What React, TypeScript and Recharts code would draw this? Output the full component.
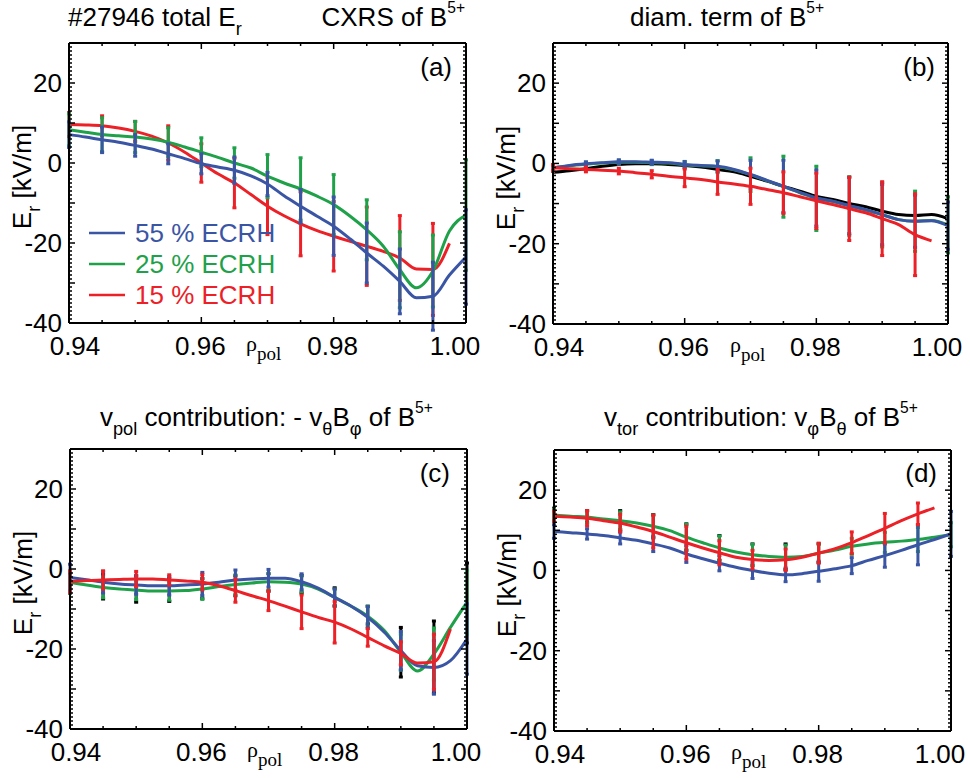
import React from "react";
import { ComposedChart, Line, XAxis, YAxis, ErrorBar, Legend } from "recharts";

/* ── look ── */
const FONT = '"Liberation Sans", Arial, Helvetica, sans-serif';
const SERIF = '"Liberation Serif", "Times New Roman", serif';
const C = {
  black: "#000000",
  green: "#1fa14a",
  blue: "#3b55a5",
  red: "#ec2027",
};

/* ── axes ── */
const RHO = [
  0.94, 0.9425, 0.945, 0.9475, 0.95, 0.9525, 0.955, 0.9575, 0.96, 0.9625, 0.965, 0.9675, 0.97,
  0.9725, 0.975, 0.9775, 0.98, 0.9825, 0.985, 0.9875, 0.99, 0.9925, 0.995, 0.9975, 1.0,
];
const X_MAJOR = [0.94, 0.96, 0.98, 1.0];
const X_MINOR = [0.94, 0.945, 0.95, 0.955, 0.96, 0.965, 0.97, 0.975, 0.98, 0.985, 0.99, 0.995, 1.0];
const Y_LABELS = [-40, -20, 0, 20];
const Y_MINOR = Array.from({ length: 71 }, (_, i) => -40 + i);

const NAMES = { blue: "55 % ECRH", green: "25 % ECRH", red: "15 % ECRH" };
const LEGEND_ORDER = ["blue", "green", "red"];

/* ── (a) total Er ── */
const A_RED = [9.6, 9.5, 9.3, 8.75, 7.9, 6.7, 5.0, 2.7, 0, -2.7, -5.0, -7.9, -10.8, -13.2, -15.2, -16.9, -18.3, -19.6, -20.8, -22.1, -23.75, -26.5, -26.6, -20.1, null];
const A_GREEN = [8.3, 7.7, 7.1, 6.8, 6.5, 6.0, 5.2, 4.0, 2.7, 1.4, 0, -1.25, -3.3, -5.0, -6.5, -8.3, -10.4, -13.3, -16.7, -20.8, -26.7, -31.2, -27, -17, -13];
const A_BLUE = [7.1, 6.5, 5.8, 5.2, 4.4, 3.5, 2.3, 1.1, -0.2, -1.0, -1.8, -3.2, -5.25, -8.2, -10.8, -13.3, -15.8, -19, -22.5, -25.8, -29.6, -33.7, -33.3, -28, -23.5];
const A_RED_ERR = [3, 2.5, 2.5, 4.3, 4.8, 6.2, 7.1, 8, 8.7, 9.8, 10.6, 11.5, null];
const A_GREEN_ERR = [4, 4.2, 3.9, 3.6, 3.6, 3.8, 5.4, 7.8, 7.5, 7.5, 9.5, 9, 13.8];
const A_BLUE_ERR = [3.2, 3.2, 2.7, 2.5, 2.5, 3.3, 2.9, 4.2, 7.3, 7.5, 8.1, 8.5, 11.8];

/* ── (b) diamagnetic term ── */
const B_BLACK = [-2.2, -1.8, -1.3, -0.7, -0.25, -0.1, -0.1, -0.25, -0.5, -0.9, -1.5, -2.1, -3.2, -4.4, -5.7, -6.9, -8.2, -9, -10, -10.8, -11.9, -12.75, -13, -12.75, -13.8];
const B_GREEN = [-1.2, -0.6, -0.2, 0.1, 0.3, 0.3, 0.2, 0.1, -0.3, -0.6, -0.8, -1.6, -2.8, -4.3, -5.8, -7.3, -8.7, -9.5, -10.6, -11.6, -12.8, -14, -14.4, -14.2, -15.3];
const B_BLUE = [-1.1, -0.5, -0.1, 0.2, 0.4, 0.4, 0.3, 0.2, -0.25, -0.5, -0.7, -1.5, -2.75, -4.2, -5.7, -7.2, -8.6, -9.4, -10.5, -11.5, -12.75, -14, -14.4, -14.25, -15.5];
const B_RED = [-1.1, -1.3, -1.5, -1.7, -1.9, -2.3, -2.7, -3.2, -3.6, -4, -4.6, -5.1, -5.7, -6.5, -7.3, -8.3, -9.3, -10.25, -11.3, -12.3, -13.75, -15.25, -17.75, -19.3, null];
const B_GREEN_ERR = [0.8, 0.5, 0.5, 0.5, 0.8, 1.5, 4.2, 7.6, 8, 7.3, 8, 7.5, 7];
const B_BLUE_ERR = [0.7, 0.5, 0.5, 0.5, 0.7, 1.3, 3.5, 6.5, 7, 7, 7.5, 6.5, 5.9];
const B_RED_ERR = [0.8, 0.6, 0.7, 0.9, 2.2, 3.1, 4.5, 5.2, 6.9, 7.9, 9.2, 10.2, null];

/* ── (c) poloidal rotation contribution ── */
const C_RED = [-3.2, -2.9, -2.75, -2.6, -2.5, -2.5, -2.75, -3, -3.3, -4.2, -5.4, -6.7, -7.9, -9.3, -10.7, -12.1, -13.3, -15, -17.1, -19.2, -21.1, -23.5, -23.2, -15, null];
const C_GREEN = [-3.3, -4, -4.6, -5, -5.25, -5.5, -5.5, -5.4, -5, -4.4, -3.9, -3.5, -3.2, -3.3, -3.75, -5, -7.1, -9.3, -11.8, -15.4, -20.8, -25.5, -21.25, -14.6, -8.3];
const C_BLUE = [-2.1, -2.7, -3.3, -3.75, -4, -4.2, -4.2, -4, -3.75, -3.3, -2.75, -2.5, -2.3, -2.3, -3.2, -4.8, -7.1, -9.3, -12.1, -15.8, -20.4, -24.2, -24.6, -22.9, -17.5];
const C_BLACK_PTS = [-3.5, -4.4, -5.0, -5.2, -4.9, -4.2, -3.4, -3.8, -7.0, -11.5, -20.8, -22, -8.5];
const C_BLACK_ERR = [2.5, 3.1, 3.3, 2.9, 2.5, 2.5, 2.2, 2.2, 2.3, 2.2, 6.2, 9, 10];
const C_GREEN_ERR = [2.8, 2.6, 2.4, 2.3, 2.6, 2.4, 2.1, 2, 2.1, 2.5, 4.5, 6.5, 8];
const C_BLUE_ERR = [3.3, 2.7, 2.3, 2.3, 2.9, 2.5, 2.2, 2, 2.1, 2.7, 4.8, 6.7, 8.8];
const C_RED_ERR = [2.7, 2.3, 1.9, 1.3, 1.9, 2.9, 2.5, 4.2, 5.2, 2.2, 2.9, 6.9, null];

/* ── (d) toroidal rotation contribution ── */
const D_RED = [13.5, 13.3, 13, 12.4, 11.8, 10.8, 9.7, 8.3, 6.9, 5.6, 4.4, 3.3, 2.7, 2.5, 2.65, 3.3, 4.3, 5.4, 6.9, 8.7, 10.5, 12.4, 14.1, 15.6, null];
const D_GREEN = [13.8, 13.5, 13.3, 12.8, 12.4, 11.8, 11, 9.9, 8.3, 6.9, 5.6, 4.6, 3.9, 3.5, 3.3, 3.5, 4.3, 5.1, 6, 6.6, 7, 7.3, 7.7, 8.3, 8.9];
const D_BLUE = [9.7, 9.4, 9.1, 8.7, 8.1, 7.5, 6.6, 5.6, 4.1, 2.9, 1.8, 0.8, 0, -0.7, -1.1, -0.8, -0.2, 0.4, 1.2, 2.5, 3.7, 5, 6.4, 7.7, 9.1];
const D_BLACK_PTS = [13.9, 13.4, 12.5, 11.0, 8.3, 5.6, 3.9, 3.4, 4.3, null, null, null, null];
const D_BLACK_ERR = [1.6, 1.5, 2.4, 2.9, 3.3, 3.1, 2.7, 3.2, 2.3, null, null, null, null];
const D_GREEN_ERR = [1.5, 1.5, 2.2, 2.8, 3.2, 3, 2.6, 3, 2.3, 2, 2.5, 3, 3];
const D_BLUE_ERR = [1.7, 1.3, 1.5, 1.9, 2.1, 1.9, 2, 1.7, 2.5, 2, 2.9, 5, 5.6];
const D_RED_ERR = [1.3, 1.9, 2.2, 4.1, 4.1, 3, 2.3, 2.7, 2.5, 2.7, 3.7, 2.7, null];

/* ── helpers ── */
// error bars sit on every second point of the fine grid
const onGrid = (v: any[]) => RHO.map((_, i) => (i % 2 === 0 ? v[i / 2] ?? null : null));

const buildRows = (lines: any, errs: any) =>
  RHO.map((rho, i) => {
    const r: any = { rho };
    Object.keys(lines).forEach((k) => (r[k] = lines[k][i]));
    Object.keys(errs).forEach((k) => (r[k + "Err"] = onGrid(errs[k])[i]));
    return r;
  });

const Sub = ({ children }: any) => (
  <span style={{ fontSize: "0.7em", position: "relative", top: "0.5em" }}>{children}</span>
);
const Sup = ({ children }: any) => (
  <span style={{ fontSize: "0.6em", position: "relative", top: "-0.85em" }}>{children}</span>
);

const W = 485;
const H = 389;

// plot boxes (margin + 1px axis band on each side)
const PANELS: any[] = [
  {
    id: "a",
    left: 0,
    top: 0,
    box: { top: 43, right: 19, bottom: 66, left: 69 },
    order: ["red", "green", "blue"],
    rows: buildRows(
      { red: A_RED, green: A_GREEN, blue: A_BLUE },
      { red: A_RED_ERR, green: A_GREEN_ERR, blue: A_BLUE_ERR }
    ),
    legend: true,
  },
  {
    id: "b",
    left: 485,
    top: 0,
    box: { top: 43, right: 22, bottom: 65, left: 68 },
    order: ["black", "green", "blue", "red"],
    rows: buildRows(
      { black: B_BLACK, green: B_GREEN, blue: B_BLUE, red: B_RED },
      { green: B_GREEN_ERR, blue: B_BLUE_ERR, red: B_RED_ERR }
    ),
  },
  {
    id: "c",
    left: 0,
    top: 389,
    box: { top: 60, right: 18, bottom: 49, left: 70 },
    order: ["black", "green", "blue", "red"],
    hidden: ["black"],
    rows: buildRows(
      { black: onGrid(C_BLACK_PTS), green: C_GREEN, blue: C_BLUE, red: C_RED },
      { black: C_BLACK_ERR, green: C_GREEN_ERR, blue: C_BLUE_ERR, red: C_RED_ERR }
    ),
  },
  {
    id: "d",
    left: 485,
    top: 389,
    box: { top: 61, right: 19, bottom: 47, left: 69 },
    order: ["black", "green", "blue", "red"],
    hidden: ["black"],
    rows: buildRows(
      { black: onGrid(D_BLACK_PTS), green: D_GREEN, blue: D_BLUE, red: D_RED },
      { black: D_BLACK_ERR, green: D_GREEN_ERR, blue: D_BLUE_ERR, red: D_RED_ERR }
    ),
  },
];

const isMajorX = (v: number) => X_MAJOR.some((m) => Math.abs(m - v) < 1e-6);

/* inward ticks: one axis per side, the tick draws its own line */
const BottomTick = (props: any) => {
  const { x, y, payload } = props;
  const v = payload.value;
  const major = isMajorX(v);
  const shift = v < 0.941 ? 6 : v > 0.999 ? -11 : -1;
  return (
    <g>
      <line x1={x} y1={y} x2={x} y2={y - (major ? 6 : 3)} stroke="#000" strokeWidth={1.5} />
      {major && (
        <text x={x + shift} y={y + 32} textAnchor="middle" fontSize={26} fontFamily={FONT} fill="#000">
          {v.toFixed(2)}
        </text>
      )}
    </g>
  );
};
const TopTick = (props: any) => {
  const { x, y, payload } = props;
  return <line x1={x} y1={y} x2={x} y2={y + (isMajorX(payload.value) ? 6 : 3)} stroke="#000" strokeWidth={1.5} />;
};
const LeftTick = (props: any) => {
  const { x, y, payload } = props;
  const v = payload.value;
  return (
    <g>
      <line x1={x} y1={y} x2={x + (v % 10 === 0 ? 6 : 3)} y2={y} stroke="#000" strokeWidth={1.5} />
      {Y_LABELS.includes(v) && (
        <text x={x - 7} y={y + 9} textAnchor="end" fontSize={26} fontFamily={FONT} fill="#000">
          {v}
        </text>
      )}
    </g>
  );
};
const RightTick = (props: any) => {
  const { x, y, payload } = props;
  return <line x1={x} y1={y} x2={x - (payload.value % 10 === 0 ? 6 : 3)} y2={y} stroke="#000" strokeWidth={1.5} />;
};

const LegendBox = (props: any) => {
  const items = LEGEND_ORDER.map((k) => (props.payload || []).find((it: any) => it.dataKey === k)).filter(Boolean);
  return (
    <div>
      {items.map((it: any) => (
        <div key={it.dataKey} style={{ display: "flex", alignItems: "center", height: 31 }}>
          <svg width={36} height={4}>
            <line x1={0} y1={2} x2={36} y2={2} stroke={it.color} strokeWidth={2.5} />
          </svg>
          <span style={{ marginLeft: 10, color: it.color, fontSize: 26, fontFamily: FONT, lineHeight: "26px" }}>
            {it.value}
          </span>
        </div>
      ))}
    </div>
  );
};

const axisLine = { stroke: "#000", strokeWidth: 2 };

function Panel({ p }: any) {
  const b = p.box;
  const margin = { top: b.top - 1, right: b.right - 1, bottom: b.bottom - 1, left: b.left - 1 };
  const xCommon: any = {
    dataKey: "rho", type: "number", domain: [0.94, 1.0], allowDataOverflow: true, interval: 0,
    ticks: X_MINOR, tickSize: 0, tickMargin: 0, tickLine: false, axisLine, height: 1,
  };
  const yCommon: any = {
    type: "number", domain: [-40, 30], allowDataOverflow: true, interval: 0,
    ticks: Y_MINOR, tickSize: 0, tickMargin: 0, tickLine: false, axisLine, width: 1,
  };
  return (
    <div style={{ position: "absolute", left: p.left, top: p.top, width: W, height: H }}>
      <ComposedChart width={W} height={H} data={p.rows} margin={margin}>
        <XAxis {...xCommon} xAxisId="b" tick={<BottomTick />} />
        <XAxis {...xCommon} xAxisId="t" orientation="top" tick={<TopTick />} />
        <YAxis {...yCommon} yAxisId="l" tick={<LeftTick />} />
        <YAxis {...yCommon} yAxisId="r" orientation="right" tick={<RightTick />} />
        {p.order.map((k: string) => (
          <Line
            key={k}
            xAxisId="b"
            yAxisId="l"
            dataKey={k}
            name={(NAMES as any)[k] || k}
            type="monotone"
            stroke={p.hidden && p.hidden.includes(k) ? "none" : (C as any)[k]}
            strokeWidth={3}
            dot={false}
            activeDot={false}
            connectNulls={false}
            isAnimationActive={false}
          >
            <ErrorBar dataKey={k + "Err"} direction="y" width={2} strokeWidth={3} stroke={(C as any)[k]} isAnimationActive={false} />
          </Line>
        ))}
        {p.legend && (
          <Legend
            layout="vertical"
            align="center"
            verticalAlign="middle"
            wrapperStyle={{ left: 89, top: 217, width: "auto", height: "auto" }}
            content={<LegendBox />}
          />
        )}
      </ComposedChart>
    </div>
  );
}

/* text pieces positioned from the plot boxes */
const txt = (extra: any) => ({
  position: "absolute" as const,
  fontFamily: FONT,
  fontSize: 26,
  lineHeight: "26px",
  whiteSpace: "nowrap" as const,
  color: "#000",
  ...extra,
});

export default function App() {
  return (
    <div style={{ position: "absolute", left: 0, top: 0, width: 970, height: 778, background: "#fff", overflow: "hidden" }}>
      {PANELS.map((p) => (
        <Panel key={p.id} p={p} />
      ))}

      {/* titles */}
      <div style={txt({ left: 68, top: 4 })}>
        #27946 total E<Sub>r</Sub>
      </div>
      <div style={txt({ left: 465, top: 4, transform: "translateX(-100%)" })}>
        CXRS of B<Sup>5+</Sup>
      </div>
      <div style={txt({ left: 630, top: 4 })}>
        diam. term of B<Sup>5+</Sup>
      </div>
      <div style={txt({ left: 100, top: 404 })}>
        v<Sub>pol</Sub> contribution: - v<Sub>θ</Sub>B<Sub>φ</Sub> of B<Sup>5+</Sup>
      </div>
      <div style={txt({ left: 604, top: 404 })}>
        v<Sub>tor</Sub> contribution: v<Sub>φ</Sub>B<Sub>θ</Sub> of B<Sup>5+</Sup>
      </div>

      {/* panel letters */}
      {[
        ["(a)", 452, 54],
        ["(b)", 935, 54],
        ["(c)", 450, 460],
        ["(d)", 937, 460],
      ].map(([s, x, y]: any) => (
        <div key={s} style={txt({ left: x, top: y, transform: "translateX(-100%)" })}>
          {s}
        </div>
      ))}

      {/* y labels */}
      {PANELS.map((p) => {
        const cx = p.left + p.box.left - 46;
        const cy = p.top + (p.box.top + (H - p.box.bottom)) / 2 - 6;
        return (
          <div key={"yl" + p.id} style={txt({ left: cx, top: cy, transform: "translate(-50%, -50%) rotate(-90deg)" })}>
            E<Sub>r</Sub> [kV/m]
          </div>
        );
      })}

      {/* x labels */}
      {PANELS.map((p) => (
        <div
          key={"xl" + p.id}
          style={{
            position: "absolute",
            left: p.left + p.box.left + 177,
            top: p.top + H - p.box.bottom + 10,
            fontFamily: SERIF,
            fontSize: 22,
            lineHeight: "22px",
            whiteSpace: "nowrap",
          }}
        >
          ρ<span style={{ fontSize: 19, position: "relative", top: 9 }}>pol</span>
        </div>
      ))}
    </div>
  );
}
